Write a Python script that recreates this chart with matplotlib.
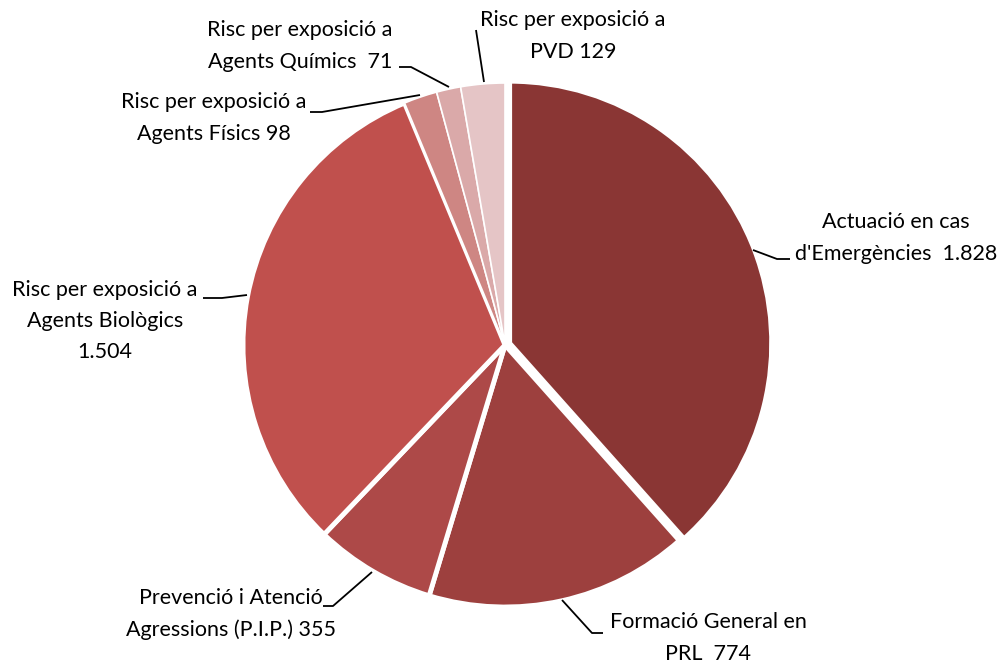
import matplotlib
matplotlib.use("Agg")
import matplotlib.pyplot as plt

categories = [
    "Actuació en cas\nd'Emergències  1.828",
    "Formació General en\nPRL  774",
    "Prevenció i Atenció\nAgressions (P.I.P.) 355",
    "Risc per exposició a\nAgents Biològics\n1.504",
    "Risc per exposició a\nAgents Físics 98",
    "Risc per exposició a\nAgents Químics  71",
    "Risc per exposició a\nPVD 129",
]
values = [1828, 774, 355, 1504, 98, 71, 129]
colors = ["#8A3634", "#9D403E", "#AD4948", "#C0504D", "#CE8683", "#DAA9A9", "#E5C5C6"]

W, H = 1001, 664
fig = plt.figure(figsize=(W / 100, H / 100), dpi=100)
ax = fig.add_axes([0, 0, 1, 1])
ax.set_xlim(0, W)
ax.set_ylim(0, H)
ax.set_aspect("equal")
ax.axis("off")

def P(x, y):
    return (x, H - y)

cx, cy = P(505, 345)
R = 262
explode = [5, 0, 0, 0, 0, 0, 0]
wedges, _ = ax.pie(values, colors=colors, startangle=90, counterclock=False,
                   center=(cx, cy), radius=R, explode=explode,
                   wedgeprops=dict(edgecolor="white", linewidth=3.5),
                   frame=True)
for i in (4, 5, 6):
    wedges[i].set_linewidth(1.2)
ax.set_xlim(0, W)
ax.set_ylim(0, H)
ax.axis("off")

font = dict(family=["Lato", "DejaVu Sans"], fontsize=15.5, color="#000000")

# label positions (centre of text block) and leader paths in pixel coords
label_pos = [(896, 238), (708, 638), (231, 614), (105, 321), (214, 118), (300, 46), (573, 36)]
leaders = [
    [(753, 250), (777, 259), (790, 259)],
    [(562, 600), (592, 633), (603, 633)],
    [(372, 572), (333, 606), (323, 606)],
    [(247, 295), (222, 298), (203, 298)],
    [(420, 95), (322, 112), (310, 112)],
    [(449, 87), (411, 67), (399, 67)],
    [(484, 82), (476, 30)],
]

for lab, pos, path in zip(categories, label_pos, leaders):
    x, y = P(*pos)
    ax.text(x, y, lab, ha="center", va="center", linespacing=1.7, **font)
    xs = [p[0] for p in path]
    ys = [H - p[1] for p in path]
    ax.plot(xs, ys, color="black", lw=1.3, solid_capstyle="butt")

fig.savefig("out.png", dpi=100)
